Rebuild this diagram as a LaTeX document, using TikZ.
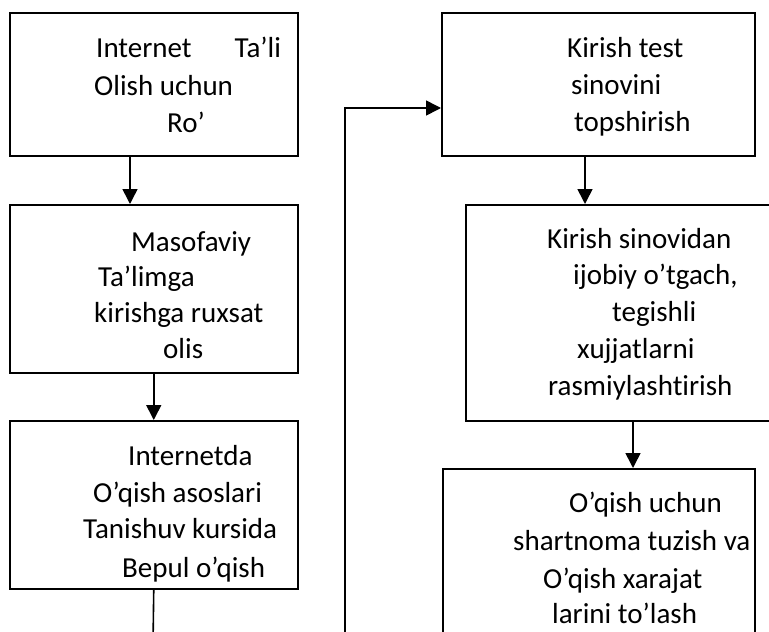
\documentclass[tikz,border=0pt]{standalone}
\usepackage{fontspec}
\setmainfont{Carlito}[Ligatures={NoCommon}]
\usetikzlibrary{arrows.meta}
\begin{document}
\begin{tikzpicture}[x=1pt,y=-1pt,
  box/.style={draw, line width=1.5pt, rectangle, anchor=north west, inner sep=0pt},
  txt/.style={anchor=base west, inner sep=0pt, font=\fontsize{29}{36}\selectfont},
  arr/.style={line width=1.6pt, -{Triangle[width=15pt,length=15pt]}},
  ln/.style={line width=1.6pt}]
\useasboundingbox (0,0) rectangle (769,632);
% boxes
\node[box, minimum width=288pt, minimum height=143pt] (b1) at (9,12) {};
\node[box, minimum width=288pt, minimum height=168pt] (b2) at (9,204) {};
\node[box, minimum width=288pt, minimum height=168pt] (b3) at (9,420) {};
\node[box, minimum width=313pt, minimum height=143pt] (b4) at (441,12) {};
\node[box, minimum width=320pt, minimum height=216pt] (b5) at (465,204) {};
\node[box, minimum width=312pt, minimum height=190pt] (b6) at (442,468) {};
% texts
\node[txt] (t1a) at (96,57) {Internet\hspace{43pt}Ta’li};
\node[txt] (t1b) at (94,95) {Olish uchun};
\node[txt] (t1c) at (167,132) {Ro’};
\node[txt] (t2a) at (131,251) {Masofaviy};
\node[txt] (t2b) at (98,286) {Ta’limga};
\node[txt] (t2c) at (94,322) {kirishga ruxsat};
\node[txt] (t2d) at (163,358) {olis};
\node[txt] (t3a) at (128,465) {Internetda};
\node[txt] (t3b) at (93,502) {O’qish asoslari};
\node[txt] (t3c) at (83,538) {Tanishuv kursida};
\node[txt] (t3d) at (122,577) {Bepul o’qish};
\node[txt] (t4a) at (567,57) {Kirish test};
\node[txt] (t4b) at (571,94) {sinovini};
\node[txt] (t4c) at (574,131) {topshirish};
\node[txt] (t5a) at (547,248) {Kirish sinovidan};
\node[txt] (t5b) at (573,284) {ijobiy o’tgach,};
\node[txt] (t5c) at (612,321) {tegishli};
\node[txt] (t5d) at (577,358) {xujjatlarni};
\node[txt] (t5e) at (548,395) {rasmiylashtirish};
\node[txt] (t6a) at (569,512) {O’qish uchun};
\node[txt] (t6b) at (513,550) {shartnoma tuzish va};
\node[txt] (t6c) at (543,588) {O’qish xarajat};
\node[txt] (t6d) at (552,623) {larini to’lash};
% connectors
\draw[arr] ([xshift=121pt]b1.south west) -- ([xshift=121pt]b2.north west);
\draw[arr] (b2.south) -- (b3.north);
\coordinate (endL) at (153,645);
\draw[ln] (b3.south) -- (endL);
\coordinate (startR) at (345,645);
\coordinate (cornR) at (345,108);
\draw[arr] (startR) -- (cornR) -- (cornR -| b4.west);
\draw[arr] ([xshift=144pt]b4.south west) -- ([xshift=120pt]b5.north west);
\draw[arr] ([xshift=168pt]b5.south west) -- ([xshift=191pt]b6.north west);
\end{tikzpicture}
\end{document}
